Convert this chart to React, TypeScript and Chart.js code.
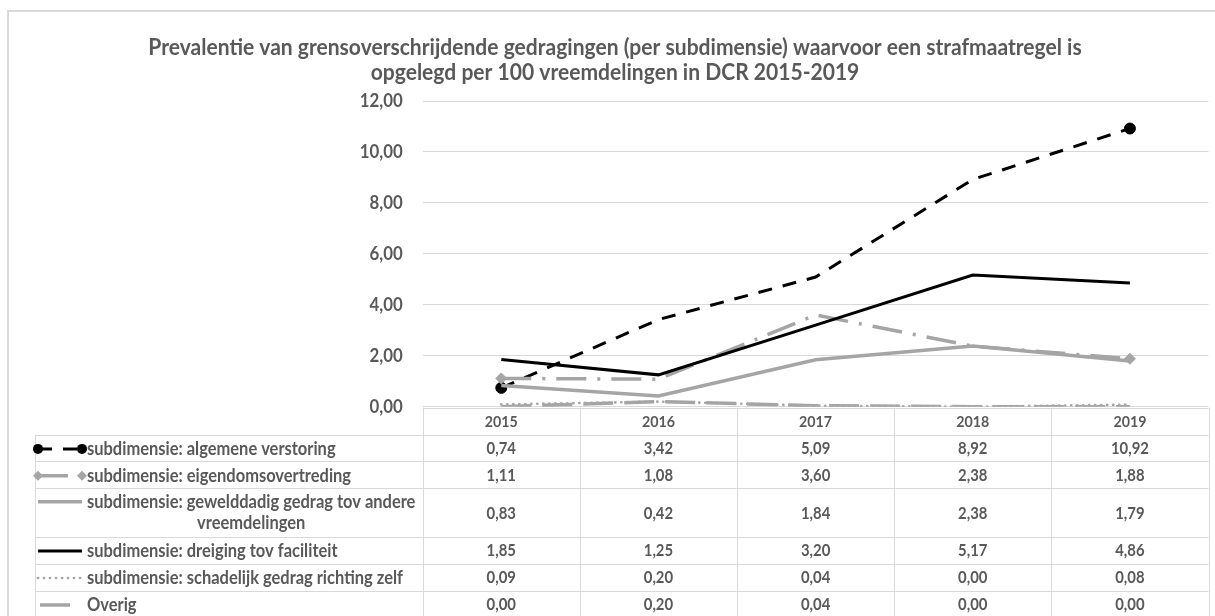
import React, { useEffect, useRef } from "react";
import { Chart, registerables } from "chart.js";

Chart.register(...registerables);

const titleLines = [
  "Prevalentie van grensoverschrijdende gedragingen (per subdimensie) waarvoor een strafmaatregel is",
  "opgelegd per 100 vreemdelingen in DCR 2015-2019",
];
const years = ["2015", "2016", "2017", "2018", "2019"];
const seriesNames = [
  "subdimensie: algemene verstoring",
  "subdimensie: eigendomsovertreding",
  "subdimensie: gewelddadig gedrag tov andere vreemdelingen",
  "subdimensie: dreiging tov faciliteit",
  "subdimensie: schadelijk gedrag richting zelf",
  "Overig",
];
const algemeneVerstoring = [0.74, 3.42, 5.09, 8.92, 10.92];
const eigendomsovertreding = [1.11, 1.08, 3.6, 2.38, 1.88];
const gewelddadigGedrag = [0.83, 0.42, 1.84, 2.38, 1.79];
const dreigingFaciliteit = [1.85, 1.25, 3.2, 5.17, 4.86];
const schadelijkGedrag = [0.09, 0.2, 0.04, 0.0, 0.08];
const overig = [0.0, 0.2, 0.04, 0.0, 0.0];
const yMin = 0;
const yMax = 12;
const yStep = 2;

const FONT = "Lato";
const TEXT = "#595959";
const LINE = "#d9d9d9";
const GREY = "#a5a5a5";
const SX = 0.9; // horizontal compression to mimic a narrow font

const fmt = (v: number) => v.toFixed(2).replace(".", ",");

function fitSize(text: string, target: number) {
  const c = document.createElement("canvas");
  const ctx = c.getContext("2d")!;
  ctx.font = `bold 20px ${FONT}`;
  const w = ctx.measureText(text).width;
  return (20 * target) / (w * SX);
}

function drawText(
  ctx: CanvasRenderingContext2D,
  text: string,
  x: number,
  y: number,
  align: CanvasTextAlign
) {
  ctx.save();
  ctx.translate(x, y);
  ctx.scale(SX, 1);
  ctx.textAlign = align;
  ctx.textBaseline = "middle";
  ctx.fillText(text, 0, 0);
  ctx.restore();
}

export default function App() {
  const ref = useRef<HTMLCanvasElement>(null);

  useEffect(() => {
    const canvas = ref.current!;
    const titleSize = fitSize(titleLines[0], 934);
    const tickSize = fitSize("10,00", 43);
    const valueSize = fitSize("10,92", 38);
    const headerSize = fitSize("2015", 33);
    const legendSize = fitSize("subdimensie: schadelijk gedrag richting zelf", 316);

    const allData = [
      algemeneVerstoring,
      eigendomsovertreding,
      gewelddadigGedrag,
      dreigingFaciliteit,
      schadelijkGedrag,
      overig,
    ];

    const styles = [
      { color: "#000000", width: 3, dash: [14, 11], cap: "butt", marker: "circle" },
      { color: GREY, width: 3.5, dash: [30, 11, 3, 11], cap: "butt", marker: "rectRot" },
      { color: GREY, width: 3.5, dash: [], cap: "butt", marker: null },
      { color: "#000000", width: 3, dash: [], cap: "butt", marker: null },
      { color: GREY, width: 2.7, dash: [0.1, 5.9], cap: "round", marker: null },
      { color: GREY, width: 3.5, dash: [30, 11], cap: "butt", marker: null },
    ];

    const datasets = allData.map((d, i) => {
      const s = styles[i];
      const r = s.marker ? [5.5, 0, 0, 0, 5.5] : 0;
      return {
        label: seriesNames[i],
        data: d,
        borderColor: s.color,
        backgroundColor: s.color,
        borderWidth: s.width,
        borderDash: s.dash,
        borderCapStyle: s.cap as CanvasLineCap,
        pointStyle: (s.marker || "circle") as any,
        pointRadius: r as any,
        pointHoverRadius: r as any,
        pointBackgroundColor: s.color,
        pointBorderColor: s.color,
        pointBorderWidth: 1,
        tension: 0,
        fill: false,
        order: 6 - i,
      };
    });

    const rowBounds = [407.7, 434.5, 461.3, 488.3, 536.7, 563.5, 590.5, 617.5];
    const legendLeft = 35;
    const textX = 87;

    const tablePlugin = {
      id: "dataTableAndTitle",
      afterDraw(chart: any) {
        const ctx: CanvasRenderingContext2D = chart.ctx;
        const area = chart.chartArea;
        const xs = chart.scales.x;
        const ys = chart.scales.y;
        const left = area.left;
        const right = area.right;
        const colW = (right - left) / years.length;
        const crisp = (v: number) => Math.round(v) + 0.5;
        ctx.save();

        // outer border
        ctx.strokeStyle = LINE;
        ctx.lineWidth = 2;
        ctx.beginPath();
        ctx.moveTo(8, 640);
        ctx.lineTo(8, 11);
        ctx.lineTo(1240, 11);
        ctx.stroke();

        // title
        ctx.fillStyle = TEXT;
        ctx.font = `bold ${titleSize}px ${FONT}`;
        drawText(ctx, titleLines[0], 615, 47, "center");
        drawText(ctx, titleLines[1], 615, 72, "center");

        // y tick labels
        ctx.font = `bold ${tickSize}px ${FONT}`;
        ys.ticks.forEach((t: any) => {
          drawText(ctx, fmt(t.value), left - 20, ys.getPixelForValue(t.value), "right");
        });

        // table grid
        ctx.strokeStyle = LINE;
        ctx.lineWidth = 1;
        ctx.beginPath();
        ctx.moveTo(left, crisp(rowBounds[0]));
        ctx.lineTo(right, crisp(rowBounds[0]));
        for (let i = 1; i < rowBounds.length; i++) {
          ctx.moveTo(legendLeft, crisp(rowBounds[i]));
          ctx.lineTo(right, crisp(rowBounds[i]));
        }
        ctx.moveTo(crisp(legendLeft), rowBounds[1]);
        ctx.lineTo(crisp(legendLeft), rowBounds[7]);
        for (let k = 0; k <= years.length; k++) {
          const x = crisp(left + k * colW);
          ctx.moveTo(x, rowBounds[0]);
          ctx.lineTo(x, rowBounds[7]);
        }
        ctx.stroke();

        // header labels
        ctx.fillStyle = TEXT;
        ctx.font = `bold ${headerSize}px ${FONT}`;
        years.forEach((y, j) => {
          drawText(ctx, y, xs.getPixelForValue(j), (rowBounds[0] + rowBounds[1]) / 2 + 1, "center");
        });

        // rows
        allData.forEach((d, i) => {
          const top = rowBounds[i + 1];
          const bot = rowBounds[i + 2];
          const cy = (top + bot) / 2 + 1;
          ctx.font = `bold ${valueSize}px ${FONT}`;
          ctx.fillStyle = TEXT;
          d.forEach((v, j) => drawText(ctx, fmt(v), xs.getPixelForValue(j), cy, "center"));

          // label text with wrapping
          ctx.font = `bold ${legendSize}px ${FONT}`;
          const name = seriesNames[i];
          const maxW = left - textX - 2;
          const mw = (t: string) => ctx.measureText(t).width * SX;
          let lines: string[] = [name];
          if (mw(name) > maxW) {
            const words = name.split(" ");
            let first = "";
            let k = 0;
            for (; k < words.length; k++) {
              const t = first ? first + " " + words[k] : words[k];
              if (mw(t) > maxW) break;
              first = t;
            }
            lines = [first, words.slice(k).join(" ")];
          }
          let keyY = cy;
          if (lines.length === 1) {
            drawText(ctx, lines[0], textX, cy, "left");
          } else {
            const c = textX + mw(lines[0]) / 2;
            drawText(ctx, lines[0], c, 501.7, "center");
            drawText(ctx, lines[1], c, 523.3, "center");
            keyY = 501.7;
          }

          // legend key
          const s = styles[i];
          const kx0 = 38;
          const kx1 = 82;
          ctx.save();
          ctx.strokeStyle = s.color;
          ctx.lineWidth = s.width;
          ctx.lineCap = s.cap as CanvasLineCap;
          ctx.setLineDash(s.dash);
          ctx.beginPath();
          if (i === 5) {
            ctx.moveTo(kx0 + 2, keyY);
            ctx.lineTo(kx0 + 32, keyY);
          } else {
            ctx.moveTo(kx0, keyY);
            ctx.lineTo(kx1, keyY);
          }
          ctx.stroke();
          ctx.setLineDash([]);
          if (s.marker) {
            ctx.fillStyle = s.color;
            [kx0, kx1].forEach((mx) => {
              ctx.beginPath();
              if (s.marker === "circle") {
                ctx.arc(mx, keyY, 5, 0, Math.PI * 2);
              } else {
                ctx.moveTo(mx, keyY - 5);
                ctx.lineTo(mx + 5, keyY);
                ctx.lineTo(mx, keyY + 5);
                ctx.lineTo(mx - 5, keyY);
                ctx.closePath();
              }
              ctx.fill();
            });
          }
          ctx.restore();
        });

        ctx.restore();
      },
    };

    const chart = new Chart(canvas, {
      type: "line",
      data: { labels: years, datasets: datasets as any },
      options: {
        responsive: false,
        animation: false,
        layout: { padding: { top: 101, right: 4, bottom: 209.3, left: 0 } },
        plugins: {
          legend: { display: false },
          tooltip: { enabled: false },
          title: { display: false },
        },
        scales: {
          x: {
            type: "category",
            offset: true,
            display: false,
          },
          y: {
            min: yMin,
            max: yMax,
            border: { display: false },
            grid: { color: LINE, lineWidth: 1, drawTicks: false },
            ticks: {
              stepSize: yStep,
              display: false,
            },
            afterFit: (s: any) => {
              s.width = 422.7;
            },
          },
        },
      },
      plugins: [tablePlugin],
    });
    return () => chart.destroy();
  }, []);

  return (
    <div style={{ position: "absolute", left: 0, top: 0, width: 1215, height: 616, background: "#fff" }}>
      <canvas ref={ref} width={1215} height={616} style={{ display: "block" }} />
    </div>
  );
}
